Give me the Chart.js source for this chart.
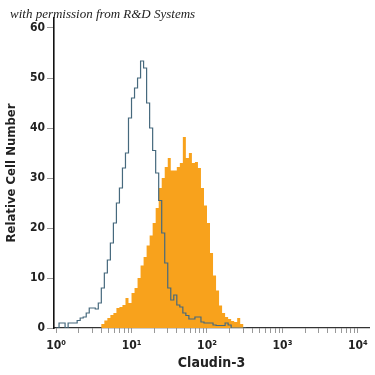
<!DOCTYPE html>
<html>
<head>
<meta charset="utf-8">
<script src="https://cdn.jsdelivr.net/npm/chart.js@4"></script>
<style>
html, body { margin: 0; padding: 0; background: #fff; }
#wrap { position: relative; width: 375px; height: 375px; }
#credit { position: absolute; left: 10px; top: 6px; font: italic 13px 'Liberation Serif', serif; color: #222; white-space: nowrap; }
</style>
</head>
<body>
<div id="wrap">
  <canvas id="histo" width="375" height="375"></canvas>
  <div id="credit">with permission from R&amp;D Systems</div>
</div>
<script>
// log10 of each bin start (last entry closes the final bin)
const binLog = [0.00,0.04,0.08,0.12,0.16,0.20,0.24,0.28,0.32,0.36,0.40,0.44,0.48,0.52,0.56,0.60,
  0.64,0.68,0.72,0.76,0.80,0.84,0.88,0.92,0.96,1.00,1.04,1.08,1.12,1.16,1.20,1.24,
  1.28,1.32,1.36,1.40,1.44,1.48,1.52,1.56,1.60,1.64,1.68,1.72,1.76,1.80,1.84,1.88,
  1.92,1.96,2.00,2.04,2.08,2.12,2.16,2.20,2.24,2.28,2.32,2.36,2.40,2.44,2.48,2.52];

// isotype control (open histogram)
const isotype = [0,1,1,0,1,1,1,1.5,2,2.2,3,4,4,3.8,5,8,
  11,13.6,17,21,25,28,32,35,42,46,48,50,53.4,52,45,40,
  35.5,31,25.5,19,13,8,5.6,6.6,4.6,4.2,3,2.5,1.8,1.8,2.2,2.2,
  1.2,1,1,1,0.6,0.5,0.5,0.5,1,0.6,0,0,0,0,0];

// Claudin-3 antibody (filled histogram)
const claudin = [0,0,0,0,0,0,0,0,0,0,0,0,0,0,0,0.8,
  1.5,2,2.6,3,4,4.2,4.6,6,5,7,8,10,12.5,14.2,16.5,18.5,
  21,24,28,30,32.2,34,31.5,31.5,32.2,33,38.2,34,35,33,33.2,32,
  28,24.5,21,15,10.5,7.5,4.5,3,2.2,1.8,1.4,1.2,2,0.8,0];

const decades = [1, 10, 100, 1000, 10000];
const decadeLabels = ['10⁰', '10¹', '10²', '10³', '10⁴'];
const minorSteps = [2, 3, 4, 5, 6, 7, 8, 9];
const yTicks = [0, 10, 20, 30, 40, 50, 60];

function toPoints(vals) {
  const pts = vals.map((v, i) => ({ x: Math.pow(10, binLog[i]), y: v }));
  pts.push({ x: Math.pow(10, binLog[binLog.length - 1]), y: 0 });
  return pts;
}

const xTickVals = [];
decades.forEach((d, i) => {
  xTickVals.push(d);
  if (i < decades.length - 1) minorSteps.forEach(m => xTickVals.push(d * m));
});

const condensed = "'Liberation Sans Narrow', 'DejaVu Sans Condensed', sans-serif";

new Chart(document.getElementById('histo'), {
  type: 'line',
  data: {
    datasets: [
      {
        label: 'Isotype',
        data: toPoints(isotype),
        stepped: 'before',
        borderColor: '#46697d',
        borderWidth: 1.2,
        pointRadius: 0,
        fill: false
      },
      {
        label: 'Claudin-3',
        data: toPoints(claudin),
        stepped: 'before',
        borderWidth: 0,
        borderColor: 'rgba(0,0,0,0)',
        backgroundColor: '#f8a21c',
        pointRadius: 0,
        fill: 'origin'
      }
    ]
  },
  options: {
    responsive: false,
    animation: false,
    layout: { padding: { top: 18, right: 6, left: 0, bottom: 0 } },
    plugins: {
      legend: { display: false },
      tooltip: { enabled: false }
    },
    scales: {
      x: {
        type: 'logarithmic',
        min: 0.94,
        max: 14000,
        z: 1,
        afterBuildTicks: (s) => { s.ticks = xTickVals.map(v => ({ value: v })); },
        afterFit: (s) => { s.height = 47; },
        border: { display: true, color: '#333', width: 1.3 },
        grid: { drawOnChartArea: false, drawTicks: true, tickLength: 5, color: '#999', lineWidth: 1 },
        ticks: {
          autoSkip: false,
          maxRotation: 0,
          padding: 6,
          color: '#222',
          font: { family: condensed, size: 12, weight: 'bold' },
          callback: (v) => {
            const k = decades.indexOf(v);
            return k >= 0 ? decadeLabels[k] : '';
          }
        },
        title: {
          display: true,
          text: 'Claudin-3',
          color: '#222',
          font: { family: condensed, size: 14, weight: 'bold' },
          padding: { top: 0, bottom: 3 }
        }
      },
      y: {
        min: 0,
        max: 62,
        z: 1,
        afterBuildTicks: (s) => { s.ticks = yTicks.map(v => ({ value: v })); },
        afterFit: (s) => { s.width = 54; },
        border: { display: true, color: '#111', width: 1.6 },
        grid: { drawOnChartArea: false, drawTicks: true, tickLength: 7, color: '#999', lineWidth: 1 },
        ticks: {
          padding: 2,
          color: '#222',
          font: { family: condensed, size: 12, weight: 'bold' }
        },
        title: {
          display: true,
          text: 'Relative Cell Number',
          color: '#222',
          font: { family: condensed, size: 13, weight: 'bold' },
          padding: { top: 4, bottom: 0 }
        }
      }
    }
  }
});
</script>
</body>
</html>
